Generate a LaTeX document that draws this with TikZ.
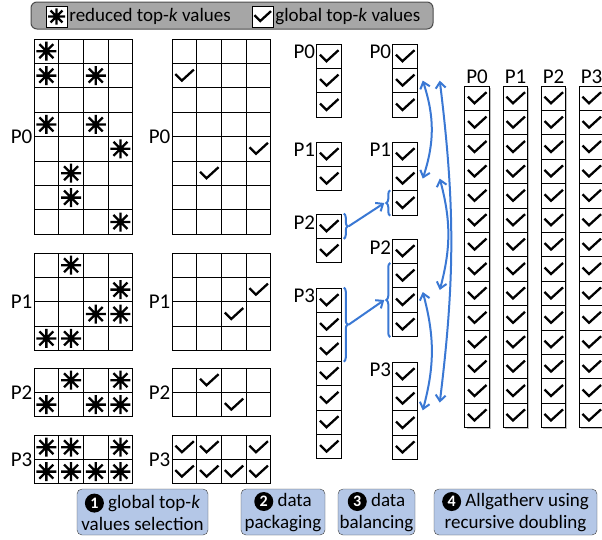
\documentclass[tikz,border=0pt]{standalone}
\usepackage{fontspec}
\setmainfont{Carlito}
\usepackage{tikz}
\usetikzlibrary{calc, arrows.meta, decorations.pathreplacing}
\definecolor{arrowblue}{RGB}{58,120,212}
\definecolor{stepfill}{RGB}{180,199,231}
\definecolor{legendgray}{RGB}{166,166,166}
\newcommand{\stepnum}[1]{\tikz[baseline=(num.base)]\node[circle,fill=black,text=white,inner sep=0pt,minimum size=19pt,font=\fontsize{16}{16}\selectfont\bfseries](num){#1};}
\tikzset{
  cellbox/.style={draw, line width=1pt, minimum width=24.5pt, minimum height=24.4pt, inner sep=0pt},
  plabel/.style={font=\fontsize{21}{21}\selectfont, inner sep=1pt},
  ast/.pic={\draw[line width=2.3pt] (-10,0)--(10,0) (0,-9.5)--(0,9.5) (-7,-7)--(7,7) (-7,7)--(7,-7);},
  chk/.pic={\draw[line width=2.3pt] (-9,-1.5)--(-2.5,5)--(9.5,-6);},
  arr/.style={arrowblue, line width=2pt, -{Straight Barb[length=6pt,width=10pt]}},
  darr/.style={arrowblue, line width=2pt, {Straight Barb[length=6pt,width=10pt]}-{Straight Barb[length=6pt,width=10pt]}},
  brc/.style={arrowblue, line width=2pt, decorate, decoration={brace, amplitude=4pt}},
  stepbox/.style={draw=black!75, fill=stepfill, rounded corners=5pt, align=center, font=\fontsize{19}{22}\selectfont, inner sep=1pt, minimum height=46pt}
}
\begin{document}
\begin{tikzpicture}[x=1pt,y=-1pt]
\useasboundingbox (0,0) rectangle (602,539);
\node[draw=black!70, line width=1pt, fill=legendgray, rounded corners=6pt, minimum width=402pt, minimum height=27pt] (legend) at (232,15.5) {};
\node[draw, fill=white, minimum width=21pt, minimum height=21pt, inner sep=0pt] (astkey) at (56.5,16.5) {};
\pic[scale=0.85] at (astkey) {ast};
\node[anchor=west, inner sep=2pt, font=\fontsize{19}{19}\selectfont] (astlbl) at (astkey.east) {reduced top-\textit{k} values};
\node[draw, fill=white, minimum width=21pt, minimum height=21pt, inner sep=0pt] (chkkey) at (262.5,16.5) {};
\pic[scale=0.9] at (chkkey) {chk};
\node[anchor=west, inner sep=2pt, font=\fontsize{19}{19}\selectfont] (chklbl) at (chkkey.east) {global top-\textit{k} values};
\foreach \g/\t/\n in {P0/39/8, P1/253/4, P2/368/2, P3/435/2} {
  \foreach \x in {34,172} {
    \foreach \r in {1,...,\n} \foreach \c in {1,...,4}
      \draw[line width=1pt] ({\x+(\c-1)*24.7},{\t+(\r-1)*24.4}) rectangle ++(24.7,24.4);
    \node[plabel, anchor=east] (\g-\x) at ({\x-0.5},{\t+\n*12.2}) {\g};
  }
}
\foreach \t/\r/\c in {39/1/1,39/2/1,39/2/3,39/4/1,39/4/3,39/5/4,39/6/2,39/7/2,39/8/4,
  253/1/2,253/2/4,253/3/3,253/3/4,253/4/1,253/4/2,
  368/1/2,368/1/4,368/2/1,368/2/3,368/2/4,
  435/1/1,435/1/2,435/1/4,435/2/1,435/2/2,435/2/3,435/2/4}
  \pic at ({34+(\c-0.5)*24.7},{\t+(\r-0.5)*24.4}) {ast};
\foreach \t/\r/\c in {39/2/1,39/5/4,39/6/2,
  253/2/4,253/3/3,
  368/1/2,368/2/3,
  435/1/1,435/1/2,435/1/4,435/2/1,435/2/2,435/2/3,435/2/4}
  \pic at ({172+(\c-0.5)*24.7},{\t+(\r-0.5)*24.4}) {chk};
\foreach \g/\t/\n/\s in {P0/44/3/0, P1/142/2/3, P2/214/2/5, P3/288/7/7} {
  \foreach \k in {1,...,\n} {
    \pgfmathtruncatemacro\i{\s+\k}
    \node[cellbox] (a-\i) at (329,{\t+(\k-0.5)*24.4}) {};
    \pic at (a-\i) {chk};
  }
  \pgfmathtruncatemacro\f{\s+1}
  \node[plabel, anchor=east] (a\g) at ([yshift=4pt]a-\f.west) {\g};
}
\foreach \g/\t/\n/\s in {P0/44/3/0, P1/142/3/3, P2/239/4/6, P3/362/4/10} {
  \foreach \k in {1,...,\n} {
    \pgfmathtruncatemacro\i{\s+\k}
    \node[cellbox] (b-\i) at (405,{\t+(\k-0.5)*24.4}) {};
    \pic at (b-\i) {chk};
  }
  \pgfmathtruncatemacro\f{\s+1}
  \node[plabel, anchor=east] (b\g) at ([yshift=4pt]b-\f.west) {\g};
}
\foreach \g/\x in {P0/477, P1/515.5, P2/553.5, P3/591.5} {
  \fill[black!25] ({\x-10.5},87.5) rectangle ({\x+13.5},429.2);
  \foreach \k in {1,...,14} {
    \node[cellbox, fill=white] (f\g-\k) at (\x,{86+(\k-0.5)*24.4}) {};
    \pic at (f\g-\k) {chk};
  }
  \node[plabel, anchor=south] (f\g) at ([yshift=0.5pt]f\g-1.north) {\g};
}
\draw[brc] ([xshift=2pt]a-6.north east) -- ([xshift=2pt]a-6.south east);
\draw[brc] ([xshift=-2pt]b-6.south west) -- ([xshift=-2pt]b-6.north west);
\draw[arr] ([xshift=7pt]a-6.east) -- ([xshift=-8pt]b-6.west);
\draw[brc] ([xshift=2pt]a-8.north east) -- ([xshift=2pt]a-10.south east);
\draw[brc] ([xshift=-2pt]b-10.south west) -- ([xshift=-2pt]b-8.north west);
\draw[arr] ([xshift=7pt]a-9.east) -- ([xshift=-8pt]b-9.west);
\draw[darr] ([xshift=5pt]b-2.east) to[bend left=18] ([xshift=5pt]b-5.east);
\draw[darr] ([xshift=22pt]b-2.east) to[bend left=7] ([xshift=22pt,yshift=-4pt]b-12.east);
\draw[darr] ([xshift=22pt]b-5.east) to[bend left=15] ([xshift=22pt,yshift=10pt]b-9.east);
\draw[darr] ([xshift=5pt,yshift=8pt]b-9.east) to[bend left=15] ([xshift=5pt]b-13.north east);
\node[stepbox, minimum width=131pt] (s1) at (142.5,512) {\stepnum{1} global top-\textit{k}\\values selection};
\node[stepbox, minimum width=84pt] (s2) at (283,512) {\stepnum{2} data\\packaging};
\node[stepbox, minimum width=77pt] (s3) at (376.5,512) {\stepnum{3} data\\balancing};
\node[stepbox, minimum width=163pt] (s4) at (515.5,512) {\stepnum{4} Allgatherv using\\recursive doubling};
\end{tikzpicture}
\end{document}
